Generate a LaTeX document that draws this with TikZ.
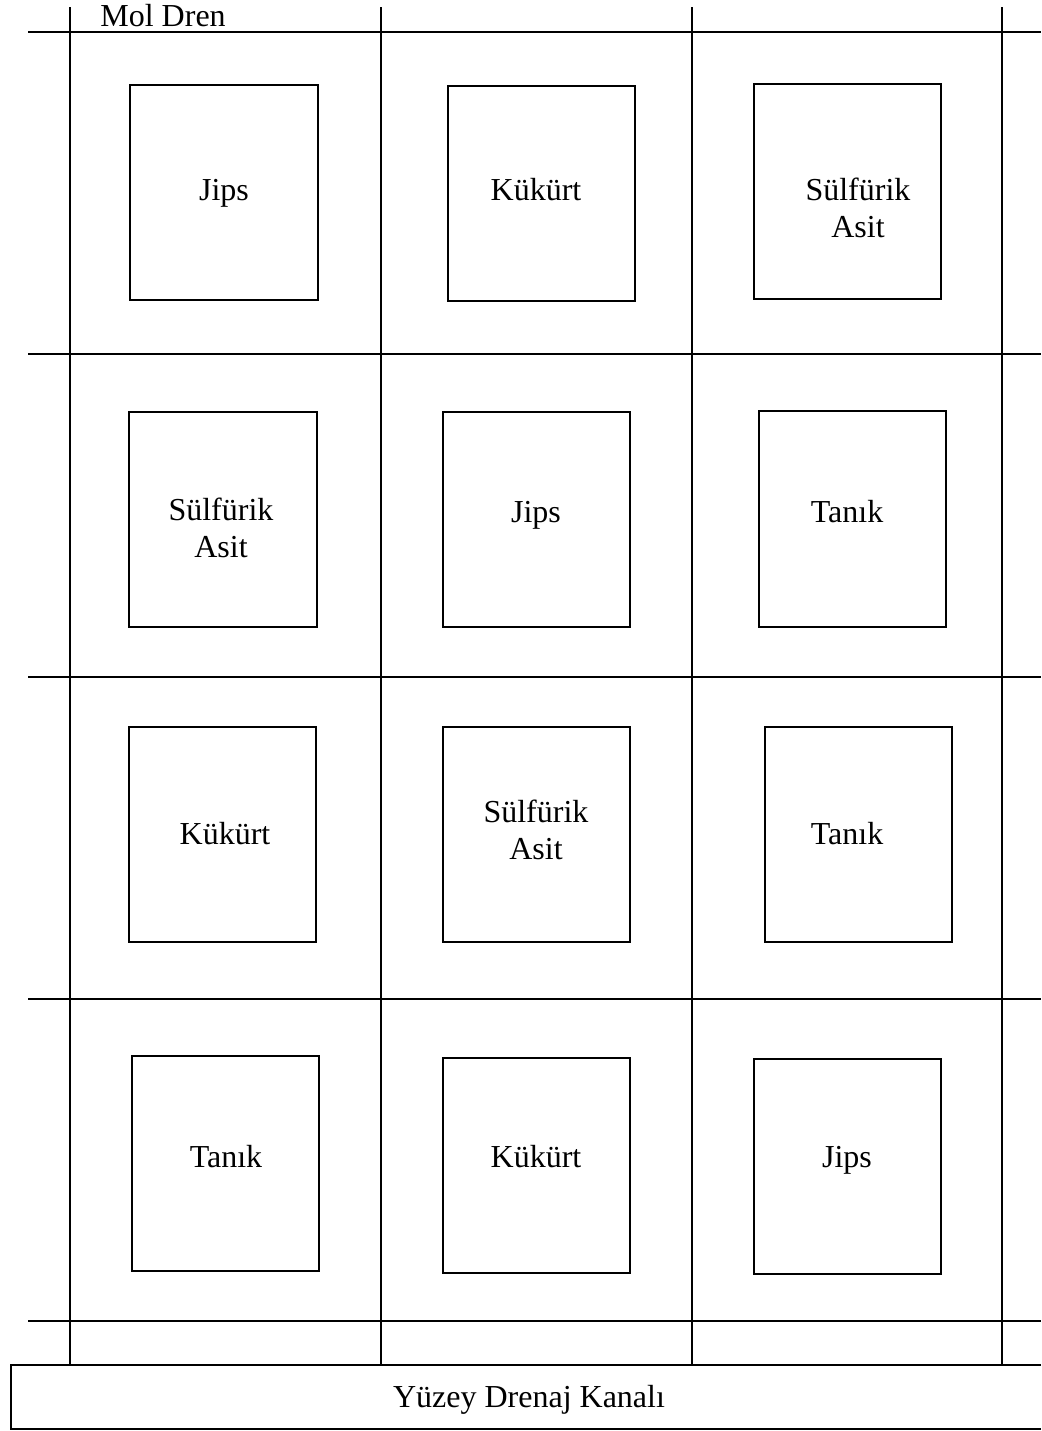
\documentclass[tikz,border=0pt]{standalone}
\usepackage{fontspec}
\setmainfont{Liberation Serif}
\usepackage{tikz}
\usetikzlibrary{positioning}

\tikzset{
  drain/.style={line width=0.9pt},
  plotbox/.style={line width=0.9pt},
  plotlabel/.style={anchor=base, inner sep=0pt, align=center,
    font=\fontsize{16}{18.5}\selectfont},
}

\begin{document}
\begin{tikzpicture}[x=0.5pt, y=-0.5pt]
  \useasboundingbox (0,0) rectangle (1041,1431);
  % mole drains and field borders
  \foreach \xx in {70,381,692,1002}
    \draw[drain] (\xx,7) -- (\xx,1365);
  \foreach \yy in {32,354,677,999,1321}
    \draw[drain] (28,\yy) -- (1041,\yy);
  \node[plotlabel, anchor=base west] (mol) at (100,26) {Mol Dren};
  % surface drainage channel
  \draw[drain] (1041,1365) -- (11,1365) -- (11,1429) -- (1041,1429);
  \node[plotlabel] (kanal) at (529,1407) {Yüzey Drenaj Kanalı};
  % plots
  \draw[plotbox] (130,85) rectangle (318,300);
  \draw[plotbox] (448,86) rectangle (635,301);
  \draw[plotbox] (754,84) rectangle (941,299);
  \draw[plotbox] (129,412) rectangle (317,627);
  \draw[plotbox] (443,412) rectangle (630,627);
  \draw[plotbox] (759,411) rectangle (946,627);
  \draw[plotbox] (129,727) rectangle (316,942);
  \draw[plotbox] (443,727) rectangle (630,942);
  \draw[plotbox] (765,727) rectangle (952,942);
  \draw[plotbox] (132,1056) rectangle (319,1271);
  \draw[plotbox] (443,1058) rectangle (630,1273);
  \draw[plotbox] (754,1059) rectangle (941,1274);
  % treatments (two-line labels sit on the base of their last line)
  \node[plotlabel] (t11) at (224,200) {Jips};
  \node[plotlabel] (t12) at (536,200) {Kükürt};
  \node[plotlabel] (t13) at (858,237) {Sülfürik\\Asit};
  \node[plotlabel] (t21) at (221,557) {Sülfürik\\Asit};
  \node[plotlabel] (t22) at (536,522) {Jips};
  \node[plotlabel] (t23) at (847,522) {Tanık};
  \node[plotlabel] (t31) at (225,844) {Kükürt};
  \node[plotlabel] (t32) at (536,859) {Sülfürik\\Asit};
  \node[plotlabel] (t33) at (847,844) {Tanık};
  \node[plotlabel] (t41) at (226,1167) {Tanık};
  \node[plotlabel] (t42) at (536,1167) {Kükürt};
  \node[plotlabel] (t43) at (847,1167) {Jips};
\end{tikzpicture}
\end{document}
